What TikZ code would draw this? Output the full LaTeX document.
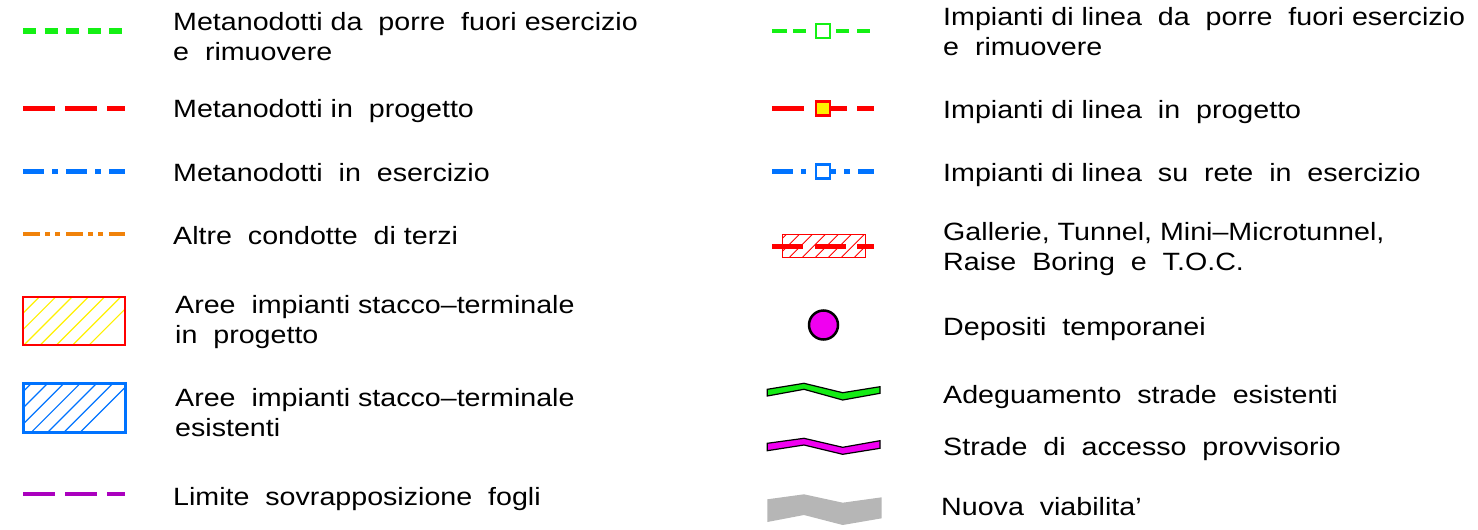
\documentclass[tikz,border=0pt]{standalone}
\usepackage{fontspec}
\setmainfont[FakeStretch=1.145]{Liberation Sans}
\definecolor{lgreen}{RGB}{20,240,20}
\definecolor{lred}{RGB}{255,0,0}
\definecolor{lblue}{RGB}{0,115,255}
\definecolor{lorange}{RGB}{240,130,10}
\definecolor{lpurple}{RGB}{170,0,190}
\definecolor{lmag}{RGB}{240,0,240}
\definecolor{lyellow}{RGB}{255,240,0}
\definecolor{lgray}{RGB}{182,182,182}
\definecolor{lroad}{RGB}{20,235,20}
\tikzset{
  lbl/.style={anchor=base west, inner sep=0pt, font=\fontsize{25}{30}\selectfont},
  sq/.style={minimum size=14pt, inner sep=0pt, line width=2.5pt, fill=white},
  hatchline/.style={line width=1.2pt},
  road/.style={draw=black, line width=1.2pt, line join=miter},
}
\begin{document}
\begin{tikzpicture}[x=1pt,y=-1pt]
\useasboundingbox (0,0) rectangle (1478,530);
% ---------- left column symbols
\draw[lgreen, line width=6pt, dash pattern=on 13pt off 8.5pt] (23,31) -- (125,31);
\draw[lred, line width=5pt, dash pattern=on 32pt off 10pt] (23,108) -- (125,108);
\draw[lblue, line width=5pt, dash pattern=on 21pt off 8pt on 6pt off 8pt] (23,171) -- (125,171);
\draw[lorange, line width=4pt, dash pattern=on 17pt off 5pt on 5pt off 5pt on 5pt off 6pt] (23,234) -- (125,234);
% hatched area (yellow / red)
\begin{scope}
  \clip (23,297) rectangle (125,345);
  \foreach \k in {-3,...,6} \draw[lyellow, hatchline] ({39.3+16.3*\k},297) -- ++(-48,48);
\end{scope}
\draw[lred, line width=2.5pt] (23,297) rectangle (125,345);
% hatched area (blue)
\begin{scope}
  \clip (23,383) rectangle (125,432);
  \foreach \k in {-3,...,6} \draw[lblue, hatchline] ({31.7+16.3*\k},383) -- ++(-49,49);
\end{scope}
\draw[lblue, line width=3pt] (23,383) rectangle (125,432);
\draw[lpurple, line width=4pt, dash pattern=on 32pt off 10pt] (23,494) -- (125,494);
% ---------- right column symbols
\draw[lgreen, line width=4pt] (772,31) -- (787,31) (793,31) -- (806,31) (836,31) -- (849,31) (857,31) -- (870,31);
\node[sq, draw=lgreen] (sqg) at (823,31) {};
\draw[lred, line width=5pt] (772,108.5) -- (804,108.5) (831,108.5) -- (847,108.5) (857,108.5) -- (874,108.5);
\node[sq, draw=lred, fill=lyellow] (sqr) at (823,108.5) {};
\draw[lblue, line width=5pt] (772,171.5) -- (793,171.5) (801,171.5) -- (806,171.5) (831,171.5) -- (836,171.5) (844,171.5) -- (850,171.5) (858,171.5) -- (874,171.5);
\node[sq, draw=lblue] (sqb) at (823,171.5) {};
% tunnel
\begin{scope}
  \clip (782,234) rectangle (865,257);
  \foreach \k in {-2,...,7} \draw[lred, line width=0.9pt] ({786.7+13*\k},234) -- ++(-23,23);
\end{scope}
\draw[lred, line width=1pt] (782,234) rectangle (865,257);
\draw[lred, line width=5pt] (772,246) -- (803,246) (815,246) -- (846,246) (857,246) -- (874,246);
% deposit
\node[circle, draw=black, line width=2.5pt, fill=lmag, minimum size=29pt, inner sep=0pt] (dep) at (823.5,325) {};
% roads
\filldraw[road, fill=lroad] (767.3,389.3) -- (804,383.3) -- (842.7,392.7) -- (880,386.7) -- (880,393.3) -- (842.7,400) -- (804,389.3) -- (767.3,396) -- cycle;
\filldraw[road, fill=lmag] (767.3,443.3) -- (804,438.3) -- (842.7,447.3) -- (880,440.7) -- (880,448.3) -- (842.7,454.3) -- (804,445) -- (767.3,450.7) -- cycle;
\fill[lgray] (767.3,499.3) -- (804,494.3) -- (842.7,502.7) -- (881.7,497.3) -- (881.7,518.3) -- (842.7,525) -- (804,515) -- (767.3,522) -- cycle;
% ---------- left texts
\node[lbl] (l1a) at (173,30) {Metanodotti da~ porre~ fuori esercizio};
\node[lbl] (l1b) at (173,60) {e~ rimuovere};
\node[lbl] (l2) at (173,117) {Metanodotti in~ progetto};
\node[lbl] (l3) at (173,181) {Metanodotti~ in~ esercizio};
\node[lbl] (l4) at (173,244) {Altre~ condotte~ di terzi};
\node[lbl] (l5a) at (175,313) {Aree~ impianti stacco--terminale};
\node[lbl] (l5b) at (175,343) {in~ progetto};
\node[lbl] (l6a) at (175,406) {Aree~ impianti stacco--terminale};
\node[lbl] (l6b) at (175,436) {esistenti};
\node[lbl] (l7) at (173,505) {Limite~ sovrapposizione~ fogli};
% ---------- right texts
\node[lbl] (r1a) at (943,25) {Impianti di linea~ da~ porre~ fuori esercizio};
\node[lbl] (r1b) at (943,55) {e~ rimuovere};
\node[lbl] (r2) at (943,118) {Impianti di linea~ in~ progetto};
\node[lbl] (r3) at (943,181) {Impianti di linea~ su~ rete~ in~ esercizio};
\node[lbl] (r4a) at (943,240) {Gallerie, Tunnel, Mini--Microtunnel,};
\node[lbl] (r4b) at (943,270) {Raise~ Boring~ e~ T.O.C.};
\node[lbl] (r5) at (943,335) {Depositi~ temporanei};
\node[lbl] (r6) at (943,403) {Adeguamento~ strade~ esistenti};
\node[lbl] (r7) at (943,455) {Strade~ di~ accesso~ provvisorio};
\node[lbl] (r8) at (941,515) {Nuova~ viabilita'};
\end{tikzpicture}
\end{document}
